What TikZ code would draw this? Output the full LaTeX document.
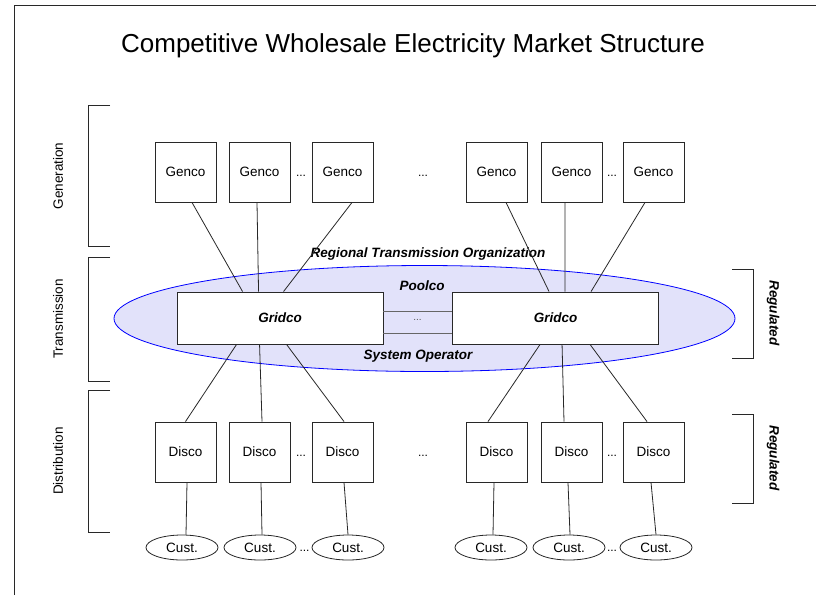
\documentclass[tikz,border=0pt]{standalone}
\usepackage{fontspec}
\setmainfont{Liberation Sans}
\usetikzlibrary{shapes.geometric,calc}
\definecolor{linegray}{RGB}{40,40,40}
\definecolor{rtofill}{RGB}{226,226,250}
\begin{document}
\begin{tikzpicture}[x=1pt,y=-1pt,
  every node/.style={font=\fontsize{13.5}{16}\selectfont},
  conn/.style={draw=linegray,line width=0.8pt},
  bracketline/.style={draw=linegray,line width=0.9pt},
  unitbox/.style={draw=linegray,line width=0.9pt,minimum width=61pt,minimum height=60pt,inner sep=0pt,fill=white},
  custnode/.style={ellipse,draw=linegray,line width=0.8pt,minimum width=72pt,minimum height=25pt,inner sep=0pt,fill=white},
  gridbox/.style={draw=linegray,line width=0.9pt,minimum width=206pt,minimum height=52pt,inner sep=0pt,fill=white,font=\fontsize{13.5}{16}\selectfont\bfseries\itshape},
  bi/.style={font=\fontsize{13.5}{16}\selectfont\bfseries\itshape},
  dotsnode/.style={inner sep=0pt,font=\fontsize{12}{14}\selectfont}
]
\useasboundingbox (0,0) rectangle (816,595);
\fill[white] (0,0) rectangle (816,595);
% frame
\draw[draw=linegray,line width=0.9pt] (14,595) -- (14,5) -- (816,5);

% title
\node[font=\fontsize{26}{30}\selectfont] (title) at (413,46) {Competitive Wholesale Electricity Market Structure};

% left brackets
\draw[bracketline] (110,105) -- (88,105) -- (88,246) -- (110,246);
\draw[bracketline] (110,257) -- (88,257) -- (88,381) -- (110,381);
\draw[bracketline] (110,390) -- (88,390) -- (88,532) -- (110,532);
\node[rotate=90] (lgen) at (58,176) {Generation};
\node[rotate=90] (ltra) at (58,319) {Transmission};
\node[rotate=90] (ldis) at (58,461) {Distribution};

% right brackets
\draw[bracketline] (732,269) -- (753,269) -- (753,358) -- (732,358);
\draw[bracketline] (732,414) -- (753,414) -- (753,503) -- (732,503);
\node[bi,rotate=-90] (reg1) at (773,313) {Regulated};
\node[bi,rotate=-90] (reg2) at (773,458) {Regulated};

% RTO ellipse
\node[ellipse,draw=blue,line width=0.8pt,fill=rtofill,minimum width=621pt,minimum height=106pt,inner sep=0pt] (rto) at (424.5,318.5) {};
\node[bi] (rtolabel) at (428,254) {Regional Transmission Organization};
\node[bi] (poolco) at (422,286) {Poolco};
\node[bi] (sysop) at (418,356) {System Operator};

% Gencos
\node[unitbox] (g1) at (185.5,172) {Genco};
\node[unitbox] (g2) at (259.5,172) {Genco};
\node[unitbox] (g3) at (342.5,172) {Genco};
\node[unitbox] (g4) at (496.5,172) {Genco};
\node[unitbox] (g5) at (571.5,172) {Genco};
\node[unitbox] (g6) at (653.5,172) {Genco};
\node[dotsnode] (gd1) at (301,176) {...};
\node[dotsnode] (gd2) at (423,176) {...};
\node[dotsnode] (gd3) at (612,176) {...};

% Gridcos
\node[gridbox] (L) at (280,318) {Gridco};
\node[gridbox] (R) at (555.5,318) {Gridco};
\draw[draw=gray!80!black,line width=0.9pt] ($(L.east)+(0,-7)$) -- ($(R.west)+(0,-7)$);
\draw[draw=gray!80!black,line width=0.9pt] ($(L.east)+(0,15)$) -- ($(R.west)+(0,15)$);
\node[dotsnode,text=gray!70!black,font=\fontsize{10}{12}\selectfont] (gdots) at (417.5,320) {...};

% Discos
\node[unitbox] (d1) at (185.5,452) {Disco};
\node[unitbox] (d2) at (259.5,452) {Disco};
\node[unitbox] (d3) at (342.5,452) {Disco};
\node[unitbox] (d4) at (496.5,452) {Disco};
\node[unitbox] (d5) at (571.5,452) {Disco};
\node[unitbox] (d6) at (653.5,452) {Disco};
\node[dotsnode] (dd1) at (301,456) {...};
\node[dotsnode] (dd2) at (423,456) {...};
\node[dotsnode] (dd3) at (612,456) {...};

% Customers
\node[custnode] (c1) at (182,547.5) {Cust.};
\node[custnode] (c2) at (260,547.5) {Cust.};
\node[custnode] (c3) at (348,547.5) {Cust.};
\node[custnode] (c4) at (491,547.5) {Cust.};
\node[custnode] (c5) at (569,547.5) {Cust.};
\node[custnode] (c6) at (656,547.5) {Cust.};
\node[dotsnode] (cd1) at (304.5,551) {...};
\node[dotsnode] (cd2) at (612,551) {...};

% Genco -> Gridco
\draw[conn] ([xshift=6.5pt]g1.south) -- ($(L.north west)+(66,0)$);
\draw[conn] ([xshift=-2.5pt]g2.south) -- ($(L.north west)+(82,0)$);
\draw[conn] ([xshift=9.5pt]g3.south) -- ($(L.north west)+(107,0)$);
\draw[conn] ([xshift=9.5pt]g4.south) -- ($(R.north west)+(97,0)$);
\draw[conn] ([xshift=-6.5pt]g5.south) -- ($(R.north west)+(113,0)$);
\draw[conn] ([xshift=-8.5pt]g6.south) -- ($(R.north west)+(139,0)$);

% Gridco -> Disco
\draw[conn] ($(L.south west)+(60,0)$) -- (d1.north);
\draw[conn] ($(L.south west)+(83,0)$) -- ([xshift=2.5pt]d2.north);
\draw[conn] ($(L.south west)+(110,0)$) -- ([xshift=1.5pt]d3.north);
\draw[conn] ($(R.south west)+(88,0)$) -- ([xshift=-8.5pt]d4.north);
\draw[conn] ($(R.south west)+(110,0)$) -- ([xshift=-7.5pt]d5.north);
\draw[conn] ($(R.south west)+(138,0)$) -- ([xshift=-6.5pt]d6.north);

% Disco -> Cust
\draw[conn] ([xshift=1.5pt]d1.south) -- ([xshift=4pt]c1.north);
\draw[conn] ([xshift=1.5pt]d2.south) -- ([xshift=2pt]c2.north);
\draw[conn] ([xshift=1.5pt]d3.south) -- (c3.north);
\draw[conn] ([xshift=-2.5pt]d4.south) -- ([xshift=2pt]c4.north);
\draw[conn] ([xshift=-3.5pt]d5.south) -- ([xshift=1pt]c5.north);
\draw[conn] ([xshift=-2.5pt]d6.south) -- (c6.north);
\end{tikzpicture}
\end{document}
